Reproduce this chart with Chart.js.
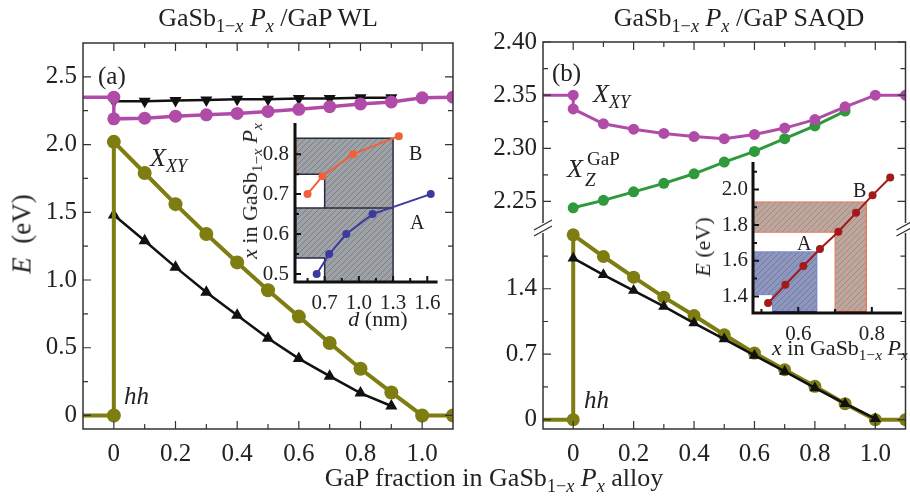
<!DOCTYPE html>
<html>
<head>
<meta charset="utf-8">
<script src="https://cdn.jsdelivr.net/npm/chart.js@4.4.1/dist/chart.umd.min.js"></script>
<style>
html, body { margin: 0; padding: 0; background: #fff; overflow: hidden; }
body { width: 910px; height: 502px; position: relative; font-family: "Liberation Serif", serif; color: #222; }
canvas { position: absolute; }
.t { position: absolute; white-space: nowrap; line-height: 1; }
.sb { font-size: 0.7em; position: relative; top: 0.32em; }
.rot { transform: translate(-50%, -50%) rotate(-90deg); }
</style>
</head>
<body>
<canvas id="wl" width="460" height="502" style="left:0;top:0"></canvas>
<canvas id="qd" width="452" height="502" style="left:460px;top:0"></canvas>
<canvas id="wlIn" width="220" height="240" style="left:230px;top:100px"></canvas>
<canvas id="qdIn" width="210" height="230" style="left:700px;top:140px"></canvas>

<div class="t" style="left:268px;top:5px;font-size:26px;transform:translateX(-50%)">GaSb<span class="sb">1−<i>x</i></span> <i>P<span class="sb">x</span></i> /GaP WL</div>
<div class="t" style="left:739px;top:5px;font-size:26px;transform:translateX(-50%)">GaSb<span class="sb">1−<i>x</i></span> <i>P<span class="sb">x</span></i> /GaP SAQD</div>
<div class="t" style="left:494px;top:465px;font-size:26px;transform:translateX(-50%)">GaP fraction in GaSb<span class="sb">1−<i>x</i></span> <i>P<span class="sb">x</span></i> alloy</div>
<div class="t rot" style="left:22px;top:234px;font-size:27px"><i>E</i>&nbsp; (eV)</div>

<div class="t" style="left:98px;top:63px;font-size:25px">(a)</div>
<div class="t" style="left:150px;top:145px;font-size:26px"><i>X<span class="sb">XY</span></i></div>
<div class="t" style="left:124px;top:383px;font-size:25px"><i>hh</i></div>
<div class="t" style="left:409px;top:143px;font-size:20px">B</div>
<div class="t" style="left:410px;top:212px;font-size:20px">A</div>
<div class="t" style="left:378px;top:308px;font-size:22px;transform:translateX(-50%)"><i>d</i> (nm)</div>
<div class="t rot" style="left:250px;top:191px;font-size:22px"><i>x</i> in GaSb<span class="sb">1−<i>x</i></span> <i>P<span class="sb">x</span></i></div>

<div class="t" style="left:552px;top:60px;font-size:25px">(b)</div>
<div class="t" style="left:593px;top:81px;font-size:26px"><i>X<span class="sb">XY</span></i></div>
<div class="t" style="left:567px;top:156px;font-size:26px"><i>X</i></div>
<div class="t" style="left:587px;top:149px;font-size:19px">GaP</div>
<div class="t" style="left:585px;top:170px;font-size:19px"><i>Z</i></div>
<div class="t" style="left:584px;top:387px;font-size:25px"><i>hh</i></div>
<div class="t" style="left:797px;top:233px;font-size:20px">A</div>
<div class="t" style="left:853px;top:180px;font-size:20px">B</div>
<div class="t rot" style="left:703px;top:247px;font-size:22px"><i>E</i> (eV)</div>
<div class="t" style="left:840px;top:337px;font-size:22px;transform:translateX(-50%)"><i>x</i> in GaSb<span class="sb">1−<i>x</i></span> <i>P<span class="sb">x</span></i></div>

<script>
// GaP fraction grid
const gapFrac = [0, 0.1, 0.2, 0.3, 0.4, 0.5, 0.6, 0.7, 0.8, 0.9, 1.0];
const stepFrac = [-0.1, 0, 0, 0.1, 0.2, 0.3, 0.4, 0.5, 0.6, 0.7, 0.8, 0.9, 1.0, 1.1];

// (a) wetting layer
const wlXz = [2.35, 2.35, 2.19, 2.195, 2.21, 2.22, 2.23, 2.245, 2.26, 2.28, 2.30, 2.315, 2.345, 2.35];
const wlXzTri = [2.32, 2.32, 2.325, 2.33, 2.335, 2.335, 2.34, 2.34, 2.345, 2.345];
const wlXxy = [0, 0, 2.02, 1.79, 1.56, 1.34, 1.13, 0.925, 0.73, 0.535, 0.345, 0.17, 0, 0];
const wlXxyTri = [1.48, 1.29, 1.095, 0.91, 0.74, 0.57, 0.42, 0.29, 0.165, 0.07];

// (b) quantum dot
const qdXxy = [2.35, 2.35, 2.337, 2.323, 2.318, 2.314, 2.311, 2.309, 2.313, 2.319, 2.327, 2.339, 2.35, 2.35];
const qdXz = [2.244, 2.251, 2.259, 2.267, 2.276, 2.287, 2.297, 2.309, 2.321, 2.335];
const qdLow = [0, 0, 1.977, 1.745, 1.524, 1.31, 1.114, 0.908, 0.712, 0.534, 0.356, 0.171, 0, 0];
const qdLowTri = [1.727, 1.549, 1.381, 1.211, 1.033, 0.862, 0.687, 0.516, 0.339, 0.171, 0.01];

// inset (a): composition vs thickness
const dB = [0.55, 0.68, 0.95, 1.35];
const xB = [0.70, 0.745, 0.80, 0.845];
const dA = [0.63, 0.74, 0.89, 1.12, 1.63];
const xA = [0.50, 0.55, 0.60, 0.65, 0.70];
const grayD = [0.44, 1.3, 1.3, 0.7, 0.7, 0.44, 0.44, 0.7, 0.7, 0.44, 0.44];
const grayX = [0.84, 0.84, 0.48, 0.48, 0.54, 0.54, 0.665, 0.665, 0.75, 0.75, 0.84];

// inset (b): energy vs composition
const xE = [0.518, 0.565, 0.614, 0.659, 0.709, 0.757, 0.802, 0.85];
const eE = [1.363, 1.465, 1.571, 1.666, 1.763, 1.869, 1.968, 2.067];
const boxAX = [0.477, 0.65, 0.65, 0.53, 0.53, 0.477, 0.477];
const boxAE = [1.65, 1.65, 1.31, 1.31, 1.41, 1.41, 1.65];
const boxBX = [0.477, 0.785, 0.785, 0.70, 0.70, 0.477, 0.477];
const boxBE = [1.93, 1.93, 1.31, 1.31, 1.76, 1.76, 1.93];

// ticks
const xTicks = [0, 0.2, 0.4, 0.6, 0.8, 1.0];
const xMinor = [0.1, 0.3, 0.5, 0.7, 0.9];
const wlYTicks = [0, 0.5, 1.0, 1.5, 2.0, 2.5];
const wlYMinor = [0.25, 0.75, 1.25, 1.75, 2.25];
const qdTopTicks = [2.25, 2.30, 2.35, 2.40];
const qdTopMinor = [2.275, 2.325, 2.375];
const qdLowTicks = [0, 0.7, 1.4];
const qdLowMinor = [0.35, 1.05, 1.75];
const dTicks = [0.7, 1.0, 1.3, 1.6];
const dMinor = [0.55, 0.85, 1.15, 1.45];
const xcTicks = [0.5, 0.6, 0.7, 0.8];
const xcMinor = [0.55, 0.65, 0.75];
const exTicks = [0.6, 0.8];
const exMinor = [0.5, 0.7];
const eTicks = [1.4, 1.6, 1.8, 2.0];
const eMinor = [1.5, 1.7, 1.9, 2.1];

const SERIF = 'Liberation Serif';
Chart.defaults.font.family = SERIF;
Chart.defaults.color = '#222';

const MAG = '#b04ca8', OLIVE = '#7d7d12', GREEN = '#2f9a3c', BLK = '#111';

const pts = (xs, ys) => xs.map((x, i) => ({ x, y: ys[i] }));
const fmt1 = v => v === 0 ? '0' : v.toFixed(1);
const fmt2 = v => v.toFixed(2);
const noEdge = r => c => (c.raw && c.raw.x < -0.05) ? 0 : r;

function axis(min, max, ticks, fmt, size, pad, fit, extra) {
    return Object.assign({
        type: 'linear', min, max,
        grid: { display: false, drawTicks: false },
        border: { display: false },
        afterBuildTicks: s => { s.ticks = ticks.map(value => ({ value })); },
        afterFit: fit,
        ticks: { autoSkip: false, maxRotation: 0, padding: pad, font: { size, family: SERIF }, color: '#222', callback: v => fmt(v) }
    }, extra || {});
}

const frame = {
    id: 'frame',
    afterDatasetsDraw(chart, args, o) {
        const { ctx, chartArea: a } = chart;
        ctx.save();
        ctx.strokeStyle = o.color || '#333';
        ctx.lineWidth = o.width || 1.5;
        ctx.beginPath();
        if (o.box) {
            ctx.rect(a.left, a.top, a.right - a.left, a.bottom - a.top);
        } else {
            ctx.moveTo(a.left, a.top); ctx.lineTo(a.left, a.bottom); ctx.lineTo(a.right, a.bottom);
        }
        ctx.stroke();
        ctx.lineWidth = o.tickWidth || 1.2;
        ctx.beginPath();
        (o.marks || []).forEach(m => {
            const s = chart.scales[m.id];
            m.values.forEach(v => {
                const p = s.getPixelForValue(v);
                m.sides.forEach(side => {
                    if (side === 'bottom') { ctx.moveTo(p, a.bottom); ctx.lineTo(p, a.bottom - m.len); }
                    if (side === 'top') { ctx.moveTo(p, a.top); ctx.lineTo(p, a.top + m.len); }
                    if (side === 'left') { ctx.moveTo(a.left, p); ctx.lineTo(a.left + m.len, p); }
                    if (side === 'right') { ctx.moveTo(a.right, p); ctx.lineTo(a.right - m.len, p); }
                });
            });
        });
        ctx.stroke();
        if (o.breakAt) {
            const y = chart.scales[o.breakAt].bottom;
            [a.left, a.right].forEach(x0 => {
                ctx.fillStyle = '#fff';
                ctx.fillRect(x0 - 3, y - 5, 6, 10);
                ctx.strokeStyle = '#333';
                ctx.lineWidth = 1.3;
                ctx.beginPath();
                ctx.moveTo(x0 - 9, y + 2); ctx.lineTo(x0 + 9, y - 8);
                ctx.moveTo(x0 - 9, y + 8); ctx.lineTo(x0 + 9, y - 2);
                ctx.stroke();
            });
        }
        ctx.restore();
    }
};

// (a) main
new Chart(document.getElementById('wl'), {
    type: 'scatter',
    data: {
        datasets: [
            { data: pts(stepFrac, wlXz), showLine: true, borderColor: MAG, backgroundColor: MAG, borderWidth: 3.5, pointRadius: noEdge(6.5), pointBorderWidth: 0 },
            { data: pts(gapFrac.slice(0, 10), wlXzTri), showLine: true, borderColor: BLK, backgroundColor: BLK, borderWidth: 2.5, pointStyle: 'triangle', rotation: 180, pointRadius: 7, pointBorderWidth: 0 },
            { data: pts(stepFrac, wlXxy), showLine: true, borderColor: OLIVE, backgroundColor: OLIVE, borderWidth: 4, pointRadius: noEdge(7), pointBorderWidth: 0 },
            { data: pts(gapFrac.slice(0, 10), wlXxyTri), showLine: true, borderColor: BLK, backgroundColor: BLK, borderWidth: 2.5, pointStyle: 'triangle', pointRadius: 7, pointBorderWidth: 0 }
        ]
    },
    options: {
        responsive: false, animation: false, devicePixelRatio: 1,
        layout: { padding: { left: 0, top: 43, right: 4, bottom: 33 } },
        plugins: {
            legend: { display: false }, tooltip: { enabled: false },
            frame: { box: true, marks: [
                { id: 'x', values: xTicks, len: 8, sides: ['bottom', 'top'] },
                { id: 'x', values: xMinor, len: 5, sides: ['bottom', 'top'] },
                { id: 'y', values: wlYTicks, len: 8, sides: ['left', 'right'] },
                { id: 'y', values: wlYMinor, len: 5, sides: ['left', 'right'] }
            ] }
        },
        scales: {
            x: axis(-0.1, 1.1, xTicks, fmt1, 25, 10, s => { s.height = 40; }),
            y: axis(-0.1, 2.75, wlYTicks, fmt1, 25, 6, s => { s.width = 83; })
        }
    },
    plugins: [frame]
});

// (b) main with broken axis
new Chart(document.getElementById('qd'), {
    type: 'scatter',
    data: {
        datasets: [
            { data: pts(stepFrac, qdXxy), yAxisID: 'yTop', showLine: true, borderColor: MAG, backgroundColor: MAG, borderWidth: 3, pointRadius: noEdge(5.5), pointBorderWidth: 0 },
            { data: pts(gapFrac.slice(0, 10), qdXz), yAxisID: 'yTop', showLine: true, borderColor: GREEN, backgroundColor: GREEN, borderWidth: 3, pointRadius: 5.5, pointBorderWidth: 0 },
            { data: pts(gapFrac, qdLowTri), yAxisID: 'yLow', showLine: true, borderColor: BLK, backgroundColor: BLK, borderWidth: 2.5, pointStyle: 'triangle', pointRadius: 6.5, pointBorderWidth: 0 },
            { data: pts(stepFrac, qdLow), yAxisID: 'yLow', showLine: true, borderColor: OLIVE, backgroundColor: OLIVE, borderWidth: 4, pointRadius: noEdge(6.5), pointBorderWidth: 0 }
        ]
    },
    options: {
        responsive: false, animation: false, devicePixelRatio: 1,
        layout: { padding: { left: 0, top: 42, right: 0, bottom: 33 } },
        plugins: {
            legend: { display: false }, tooltip: { enabled: false },
            frame: { box: true, breakAt: 'yTop', marks: [
                { id: 'x', values: xTicks, len: 8, sides: ['bottom', 'top'] },
                { id: 'x', values: xMinor, len: 5, sides: ['bottom', 'top'] },
                { id: 'yTop', values: qdTopTicks, len: 8, sides: ['left', 'right'] },
                { id: 'yTop', values: qdTopMinor, len: 5, sides: ['left', 'right'] },
                { id: 'yLow', values: qdLowTicks, len: 8, sides: ['left', 'right'] },
                { id: 'yLow', values: qdLowMinor, len: 5, sides: ['left', 'right'] }
            ] }
        },
        scales: {
            x: axis(-0.1, 1.1, xTicks, fmt1, 25, 10, s => { s.height = 40; }),
            yLow: axis(-0.1, 2.05, qdLowTicks, fmt1, 25, 6, s => { s.width = 83; }, { position: 'left', stack: 'e', stackWeight: 201 }),
            yTop: axis(2.225, 2.40, qdTopTicks, fmt2, 25, 6, s => { s.width = 83; }, { position: 'left', stack: 'e', stackWeight: 186 })
        }
    },
    plugins: [frame]
});

function hatch(canvasId, bg, line) {
    const c = document.createElement('canvas');
    c.width = 6; c.height = 6;
    const g = c.getContext('2d');
    g.fillStyle = bg; g.fillRect(0, 0, 6, 6);
    g.strokeStyle = line; g.lineWidth = 1;
    g.beginPath();
    g.moveTo(0, 6); g.lineTo(6, 0);
    g.moveTo(-1, 1); g.lineTo(1, -1);
    g.moveTo(5, 7); g.lineTo(7, 5);
    g.stroke();
    return document.getElementById(canvasId).getContext('2d').createPattern(c, 'repeat');
}

// inset (a)
new Chart(document.getElementById('wlIn'), {
    type: 'scatter',
    data: {
        datasets: [
            { data: pts(dB, xB), showLine: true, borderColor: '#f0603a', backgroundColor: '#f0603a', borderWidth: 2, pointRadius: 4, pointBorderWidth: 0 },
            { data: pts(dA, xA), showLine: true, borderColor: '#3a3aa0', backgroundColor: '#3a3aa0', borderWidth: 2, pointRadius: 4, pointBorderWidth: 0 },
            { data: pts([0.7, 1.3], [0.665, 0.665]), showLine: true, borderColor: '#2a2a44', borderWidth: 1.5, pointRadius: 0 },
            { data: pts([0.44, 0.44], [0.75, 0.84]), showLine: true, borderColor: '#f0502a', borderWidth: 3, pointRadius: 0 },
            { data: pts([0.44, 0.44], [0.54, 0.665]), showLine: true, borderColor: '#3030a0', borderWidth: 3, pointRadius: 0 },
            { data: pts(grayD, grayX), showLine: true, fill: 'shape', backgroundColor: hatch('wlIn', '#9ea2a6', '#7c8086'), borderColor: '#2a2a44', borderWidth: 1.5, pointRadius: 0 }
        ]
    },
    options: {
        responsive: false, animation: false, devicePixelRatio: 1,
        layout: { padding: { left: 0, top: 23, right: 8, bottom: 28 } },
        plugins: {
            legend: { display: false }, tooltip: { enabled: false },
            frame: { box: false, color: '#111', width: 3, tickWidth: 2, marks: [
                { id: 'x', values: dTicks, len: 6, sides: ['bottom'] },
                { id: 'x', values: dMinor, len: 4, sides: ['bottom'] },
                { id: 'y', values: xcTicks, len: 6, sides: ['left'] },
                { id: 'y', values: xcMinor, len: 4, sides: ['left'] }
            ] }
        },
        scales: {
            x: axis(0.44, 1.69, dTicks, fmt1, 21, 9, s => { s.height = 30; }),
            y: axis(0.48, 0.878, xcTicks, fmt1, 21, 6, s => { s.width = 65; })
        }
    },
    plugins: [frame]
});

// inset (b)
new Chart(document.getElementById('qdIn'), {
    type: 'scatter',
    data: {
        datasets: [
            { data: pts(xE, eE), showLine: true, borderColor: '#a31a1a', backgroundColor: '#a31a1a', borderWidth: 2, pointRadius: 4, pointBorderWidth: 0 },
            { data: pts([0.53, 0.65], [1.31, 1.31]), showLine: true, borderColor: '#3030a0', borderWidth: 3, pointRadius: 0 },
            { data: pts([0.70, 0.785], [1.31, 1.31]), showLine: true, borderColor: '#f04020', borderWidth: 3, pointRadius: 0 },
            { data: pts(boxAX, boxAE), showLine: true, fill: 'shape', backgroundColor: hatch('qdIn', '#8e96bc', '#6f7aae'), borderColor: '#7a86c8', borderWidth: 1, pointRadius: 0 },
            { data: pts(boxBX, boxBE), showLine: true, fill: 'shape', backgroundColor: hatch('qdIn', '#bda69e', '#a88a80'), borderColor: '#e87a5a', borderWidth: 1, pointRadius: 0 }
        ]
    },
    options: {
        responsive: false, animation: false, devicePixelRatio: 1,
        layout: { padding: { left: 0, top: 22, right: 8, bottom: 27 } },
        plugins: {
            legend: { display: false }, tooltip: { enabled: false },
            frame: { box: false, color: '#111', width: 3, tickWidth: 2, marks: [
                { id: 'x', values: exTicks, len: 6, sides: ['bottom'] },
                { id: 'x', values: exMinor, len: 4, sides: ['bottom'] },
                { id: 'y', values: eTicks, len: 6, sides: ['left'] },
                { id: 'y', values: eMinor, len: 4, sides: ['left'] }
            ] }
        },
        scales: {
            x: axis(0.477, 0.882, exTicks, fmt1, 21, 9, s => { s.height = 30; }),
            y: axis(1.307, 2.154, eTicks, fmt1, 21, 5, s => { s.width = 53; })
        }
    },
    plugins: [frame]
});
</script>
</body>
</html>
